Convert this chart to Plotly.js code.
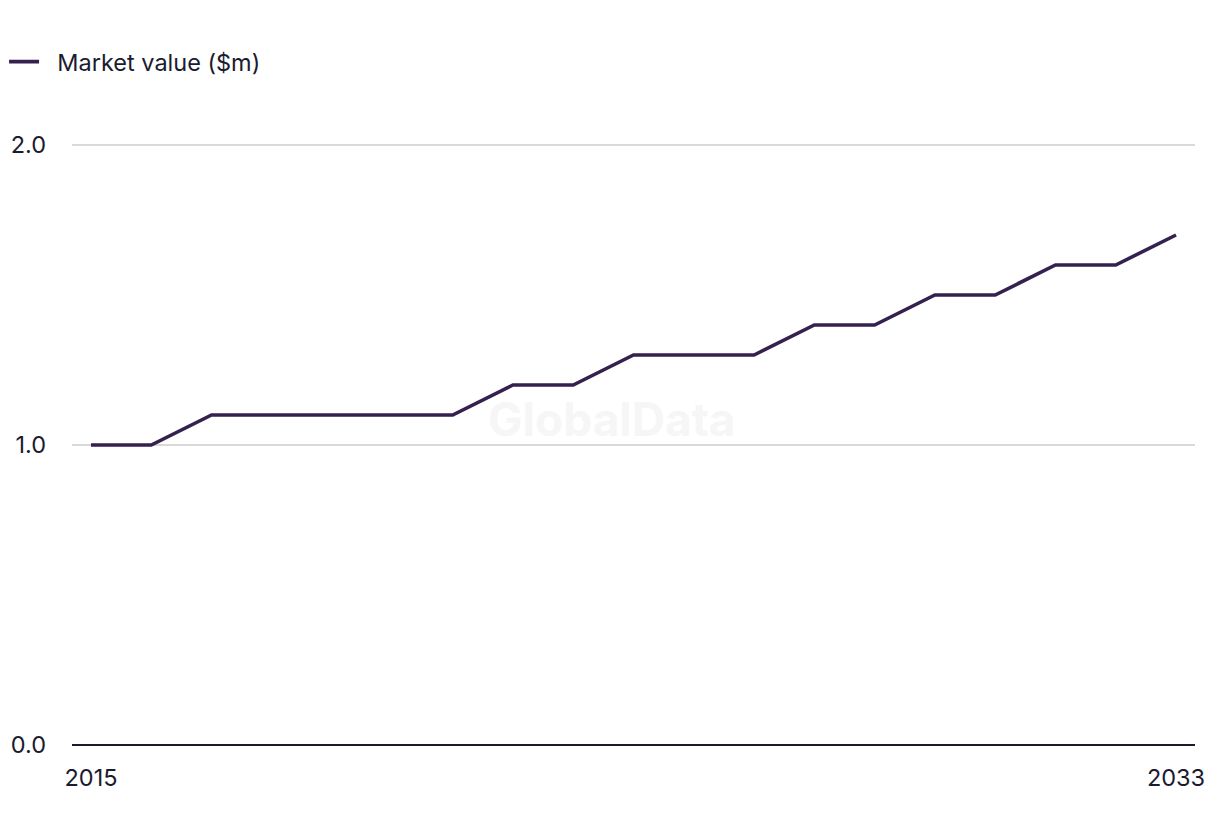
<!DOCTYPE html>
<html>
<head>
<meta charset="utf-8">
<script src="https://cdn.plot.ly/plotly-3.0.1.min.js"></script>
<style>html,body{margin:0;padding:0;background:#fff;}#chart{width:1220px;height:836px;}</style>
</head>
<body>
<div id="chart"></div>
<script>
const years = [2015,2016,2017,2018,2019,2020,2021,2022,2023,2024,2025,2026,2027,2028,2029,2030,2031,2032,2033];
const marketValue = [1.0,1.0,1.1,1.1,1.1,1.1,1.1,1.2,1.2,1.3,1.3,1.3,1.4,1.4,1.5,1.5,1.6,1.6,1.7];
const seriesName = 'Market value ($m)';
const xTicks = [2015, 2033];
const yTicks = [0, 1, 2];
const yTickLabels = ['0.0', '1.0', '2.0'];

const font = 'Inter, Liberation Sans, Arial, sans-serif';
const textColor = '#1b1b2f';

Plotly.newPlot('chart', [{
  x: years, y: marketValue, name: '\u00a0\u00a0' + seriesName, type: 'scatter', mode: 'lines',
  line: {color: '#35214f', width: 3.6}, showlegend: true
}], {
  width: 1220, height: 836,
  margin: {l: 72, r: 25, t: 142, b: 91, autoexpand: false},
  paper_bgcolor: '#fff', plot_bgcolor: '#fff',
  font: {family: font, size: 23.5, color: textColor},
  showlegend: true,
  legend: {orientation: 'h', x: -0.0605, xanchor: 'left', y: 1.133, yanchor: 'middle',
    font: {family: font, size: 23.5, color: textColor}, itemwidth: 30, bgcolor: 'rgba(0,0,0,0)'},
  xaxis: {range: [2014.685, 2033.315], tickvals: xTicks, ticktext: xTicks.map(String), automargin: false,
    showgrid: false, zeroline: false, showline: false, ticks: '', ticklabelstandoff: 16,
    tickfont: {size: 23.5, color: textColor}},
  yaxis: {range: [0, 2.01], tickvals: yTicks, ticktext: yTickLabels, showgrid: true, automargin: false,
    gridcolor: '#d9d9d9', gridwidth: 1.6, zeroline: true, zerolinecolor: '#1b1b2f', zerolinewidth: 2,
    showline: false, ticks: '', ticklabelstandoff: 25, tickfont: {size: 23.5, color: textColor}},
  annotations: [{text: '<b>GlobalData</b>', xref: 'paper', yref: 'paper', x: 0.481, y: 0.54,
    showarrow: false, font: {family: font, size: 46, color: '#f6f6f6'}}]
}, {displayModeBar: false, staticPlot: true});
</script>
</body>
</html>
